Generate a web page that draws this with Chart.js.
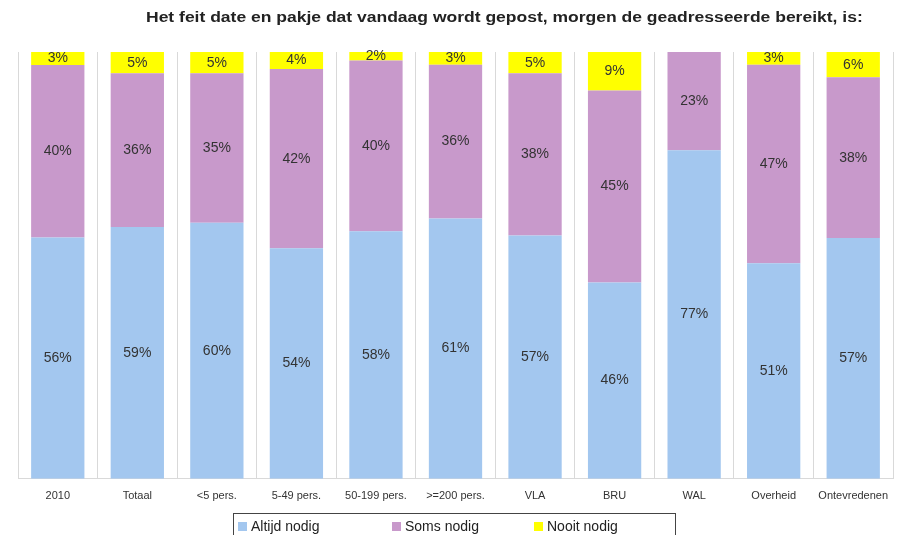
<!DOCTYPE html>
<html>
<head>
<meta charset="utf-8">
<title>Het feit date en pakje dat vandaag wordt gepost</title>
<script src="https://cdn.jsdelivr.net/npm/chart.js@4.4.1/dist/chart.umd.min.js"></script>
<style>
    body { margin: 0; background: #fff; font-family: "Liberation Sans", Arial, sans-serif; }
    #wrap { position: relative; width: 904px; height: 535px; overflow: hidden; }
    #title { position: absolute; left: 146px; top: 9px; font-weight: bold; font-size: 14px; color: #222; white-space: nowrap; transform: scaleX(1.25); transform-origin: left top; }
    #legend { position: absolute; left: 233px; top: 513px; width: 443px; height: 26px; border: 1px solid #444; box-sizing: border-box; font-size: 14px; color: #222; }
    #legend span.item { position: absolute; top: 4px; white-space: nowrap; }
    #legend i { display: inline-block; width: 9px; height: 9px; margin-right: 4px; vertical-align: 0px; }
</style>
</head>
<body>
<div id="wrap">
    <canvas id="chart" width="904" height="535"></canvas>
    <div id="title">Het feit date en pakje dat vandaag wordt gepost, morgen de geadresseerde bereikt, is:</div>
    <div id="legend"></div>
</div>
<script>
const categories = ["2010", "Totaal", "<5 pers.", "5-49 pers.", "50-199 pers.", ">=200 pers.", "VLA", "BRU", "WAL", "Overheid", "Ontevredenen"];
const seriesNames = ["Altijd nodig", "Soms nodig", "Nooit nodig"];
const altijd = [56, 59, 60, 54, 58, 61, 57, 46, 77, 51, 57];
const soms = [40, 36, 35, 42, 40, 36, 38, 45, 23, 47, 38];
const nooit = [3, 5, 5, 4, 2, 3, 5, 9, 0, 3, 6];
const colors = ["#a3c7ef", "#c899cb", "#ffff00"];

const raw = [altijd, soms, nooit];
const totals = categories.map((c, i) => altijd[i] + soms[i] + nooit[i]);

// 100% stacked: each column scaled to its own total
const datasets = raw.map((vals, d) => ({
    label: seriesNames[d],
    data: vals.map((v, i) => v / totals[i] * 100),
    backgroundColor: colors[d],
    borderWidth: 0,
    barPercentage: 0.67,
    categoryPercentage: 1
}));

const valueLabels = {
    id: "valueLabels",
    afterDatasetsDraw(chart) {
        const ctx = chart.ctx;
        ctx.save();
        ctx.font = "14px 'Liberation Sans', Arial, sans-serif";
        ctx.fillStyle = "#333";
        ctx.textAlign = "center";
        ctx.textBaseline = "middle";
        chart.data.datasets.forEach((ds, d) => {
            chart.getDatasetMeta(d).data.forEach((bar, i) => {
                const v = raw[d][i];
                if (!v) return;
                const p = bar.getCenterPoint();
                ctx.fillText(v + "%", p.x, p.y);
            });
        });
        ctx.restore();
    }
};

new Chart(document.getElementById("chart"), {
    type: "bar",
    data: { labels: categories, datasets: datasets },
    options: {
        responsive: false,
        animation: false,
        layout: { padding: { top: 52, left: 18, right: 11, bottom: 21 } },
        plugins: {
            legend: { display: false },
            tooltip: { enabled: false }
        },
        scales: {
            x: {
                stacked: true,
                grid: { color: "#d9d9d9", drawTicks: false, offset: true },
                border: { color: "#d9d9d9" },
                ticks: { color: "#333", font: { size: 11, family: "'Liberation Sans', Arial, sans-serif" }, padding: 11, maxRotation: 0, autoSkip: false }
            },
            y: {
                stacked: true,
                display: false,
                min: 0,
                max: 100
            }
        }
    },
    plugins: [valueLabels]
});

const legend = document.getElementById("legend");
const legendX = [4, 158, 300];
seriesNames.forEach((name, d) => {
    const item = document.createElement("span");
    item.className = "item";
    item.style.left = legendX[d] + "px";
    item.innerHTML = `<i style="background:${colors[d]}"></i>${name}`;
    legend.appendChild(item);
});
</script>
</body>
</html>
